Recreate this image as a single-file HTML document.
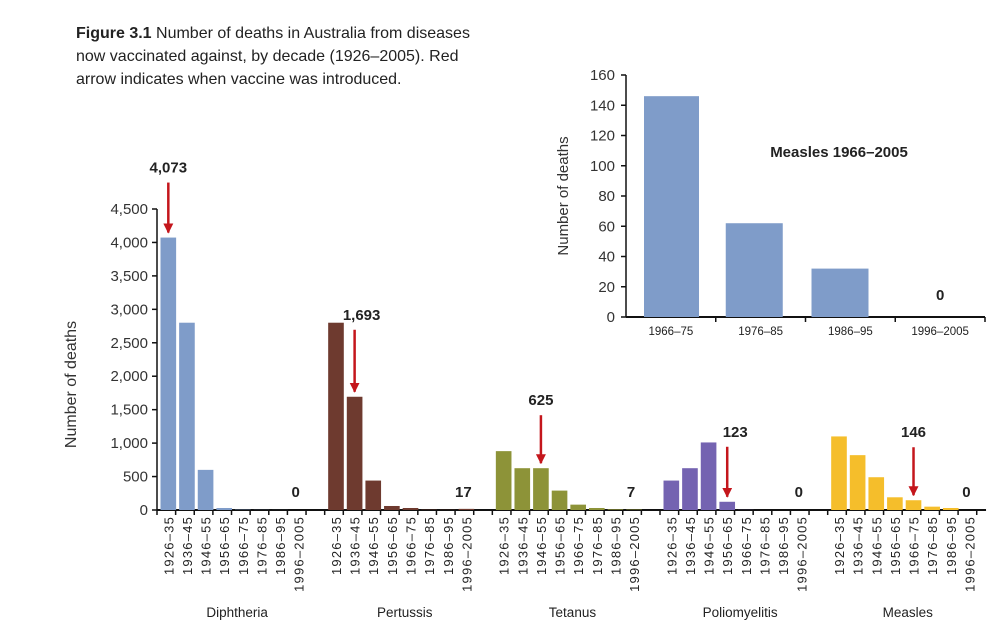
<!DOCTYPE html>
<html><head><meta charset="utf-8"><style>
body{margin:0;background:#fff;}
svg{display:block;font-family:"Liberation Sans",Arial,sans-serif;}
</style></head><body>
<svg id="chart" width="1000" height="632" viewBox="0 0 1000 632">
<defs><marker id="ah" viewBox="0 0 10 10" refX="9" refY="5" markerWidth="4" markerHeight="4" orient="auto"><path d="M0,0 L10,5 L0,10 z" fill="#c4161c"/></marker></defs>
<g font-size="16" fill="#222">
<text x="76" y="38"><tspan font-weight="bold">Figure 3.1</tspan> Number of deaths in Australia from diseases</text>
<text x="76" y="61">now vaccinated against, by decade (1926–2005). Red</text>
<text x="76" y="84">arrow indicates when vaccine was introduced.</text>
</g>
<g id="main"></g>
<g id="inset"></g>
</svg>
<script>
const diseases=["Diphtheria","Pertussis","Tetanus","Poliomyelitis","Measles"];
const decades=["1926–35","1936–45","1946–55","1956–65","1966–75","1976–85","1986–95","1996–2005"];
const diphtheria=[4073,2800,600,30,5,2,1,0];
const pertussis=[2800,1693,440,60,30,5,3,17];
const tetanus=[880,625,625,290,80,30,10,7];
const polio=[440,625,1010,123,2,0,0,0];
const measles=[1100,820,490,190,146,50,30,0];
const vaccineIdx=[0,1,2,3,4];
const yTicks=[0,500,1000,1500,2000,2500,3000,3500,4000,4500];
const insetCats=["1966–75","1976–85","1986–95","1996–2005"];
const insetVals=[146,62,32,0];
const insetTicks=[0,20,40,60,80,100,120,140,160];

const series=[diphtheria,pertussis,tetanus,polio,measles];
const colors=["#7f9cc9","#6e3a2f","#8d9338","#7463b1","#f5be2b"];
const arrowLen=[50,62,48,50,48];
const NS="http://www.w3.org/2000/svg";
function mk(parent,tag,attrs,text){const e=document.createElementNS(NS,tag);for(const k in attrs)e.setAttribute(k,attrs[k]);if(text!==undefined)e.textContent=text;parent.appendChild(e);return e;}

const main=document.getElementById('main');
const x0=157,y0=510,yTop=209,slot=18.63,groupSlots=9;
const y=v=>y0-(v/4500)*(y0-yTop);
const barX=(g,i)=>x0+(g*groupSlots+i)*slot+3.5;
const bw=slot-3;
yTicks.forEach(t=>{
 const l=mk(main,'line',{x1:x0-5,x2:x0,y1:y(t),y2:y(t),stroke:'#111','stroke-width':1.5});
 
 
 const tx=mk(main,'text',{x:x0-9,y:y(t)+5,'text-anchor':'end','font-size':15,fill:'#333'},t.toLocaleString('en-US'));
 
 
});
const yaxis=mk(main,'line',{x1:x0,x2:x0,y1:yTop,y2:y0,stroke:'#111','stroke-width':1.5});


const xEnd=x0+(groupSlots*5-0.5)*slot;
const xaxis=mk(main,'line',{x1:x0,x2:xEnd,y1:y0,y2:y0,stroke:'#111','stroke-width':2});


const yt=mk(main,'text',{transform:`translate(76,${(y0+yTop)/2+25}) rotate(-90)`,'text-anchor':'middle','font-size':16,fill:'#333'},'Number of deaths');


series.forEach((vals,g)=>{
 for(let s=0;s<=groupSlots;s++){
  if(g<4&&s==groupSlots)continue;
  const tx=x0+(g*groupSlots+s)*slot;
  if(tx>xEnd+1)continue;
  const t=mk(main,'line',{x1:tx,x2:tx,y1:y0,y2:y0+5,stroke:'#111','stroke-width':1.5});
  
  
 }
 vals.forEach((v,i)=>{
  const r=mk(main,'rect',{x:barX(g,i),y:y(v),width:bw,height:y0-y(v),fill:colors[g]});
  
  
  const cx=barX(g,i)+bw/2+5;
  const lt=mk(main,'text',{transform:`translate(${cx},516) rotate(-90)`,'text-anchor':'end','font-size':13,'letter-spacing':1.2,fill:'#222'},decades[i]);
  
  
 });
 const gn=mk(main,'text',{x:x0+(g*groupSlots+4.3)*slot,y:617,'text-anchor':'middle','font-size':13.5,fill:'#222'},diseases[g]);
 
 
 const vi=vaccineIdx[g],vv=vals[vi];
 const ax=barX(g,vi)+bw/2,tip=y(vv)-5,start=tip-arrowLen[g];
 const a=mk(main,'line',{x1:ax,x2:ax,y1:start,y2:tip,stroke:'#c4161c','stroke-width':2.5,'marker-end':'url(#ah)'});
 
 
 const al=mk(main,'text',{x:ax+(g==1?7:g==3?8:0),y:start-10,'text-anchor':'middle','font-size':15,'font-weight':'bold',fill:'#222'},vv.toLocaleString('en-US'));
 
 
 const last=vals[7];
 const ll=mk(main,'text',{x:barX(g,7)+bw/2-3,y:497,'text-anchor':'middle','font-size':15,'font-weight':'bold',fill:'#222'},String(last));
 
 
});

const ins=document.getElementById('inset');
const ix0=626,iy0=317,iyTop=75,islot=89.75;
const iy=v=>iy0-(v/160)*(iy0-iyTop);
insetTicks.forEach(t=>{
 const l=mk(ins,'line',{x1:ix0-5,x2:ix0,y1:iy(t),y2:iy(t),stroke:'#111','stroke-width':1.5});
 
 
 const tx=mk(ins,'text',{x:ix0-11,y:iy(t)+5,'text-anchor':'end','font-size':15,fill:'#333'},String(t));
 
 
});
const iya=mk(ins,'line',{x1:ix0,x2:ix0,y1:iyTop,y2:iy0,stroke:'#111','stroke-width':1.5});


const ixa=mk(ins,'line',{x1:ix0,x2:ix0+4*islot,y1:iy0,y2:iy0,stroke:'#111','stroke-width':2});


const iyt=mk(ins,'text',{transform:`translate(568,${(iy0+iyTop)/2}) rotate(-90)`,'text-anchor':'middle','font-size':15,fill:'#333'},'Number of deaths');


insetVals.forEach((v,i)=>{
 const tk=mk(ins,'line',{x1:ix0+(i+1)*islot,x2:ix0+(i+1)*islot,y1:iy0,y2:iy0+5,stroke:'#111','stroke-width':1.5});
 
 
 const bx=ix0+i*islot+(i==0?18:i==1?10:6), bwi=i==0?55:57;
 const r=mk(ins,'rect',{x:bx,y:iy(v),width:bwi,height:iy0-iy(v),fill:'#7f9cc9'});
 
 
 const lt=mk(ins,'text',{x:ix0+(i+0.5)*islot,y:iy0+18,'text-anchor':'middle','font-size':11.5,fill:'#222'},insetCats[i]);
 
 
 if(v===0){
  const z=mk(ins,'text',{x:ix0+(i+0.5)*islot,y:iy0-17,'text-anchor':'middle','font-size':15,'font-weight':'bold',fill:'#222'},'0');
  
  
 }
});
const it=mk(ins,'text',{x:839,y:157,'text-anchor':'middle','font-size':15,'font-weight':'bold',fill:'#222'},'Measles 1966–2005');


</script>
</body></html>
